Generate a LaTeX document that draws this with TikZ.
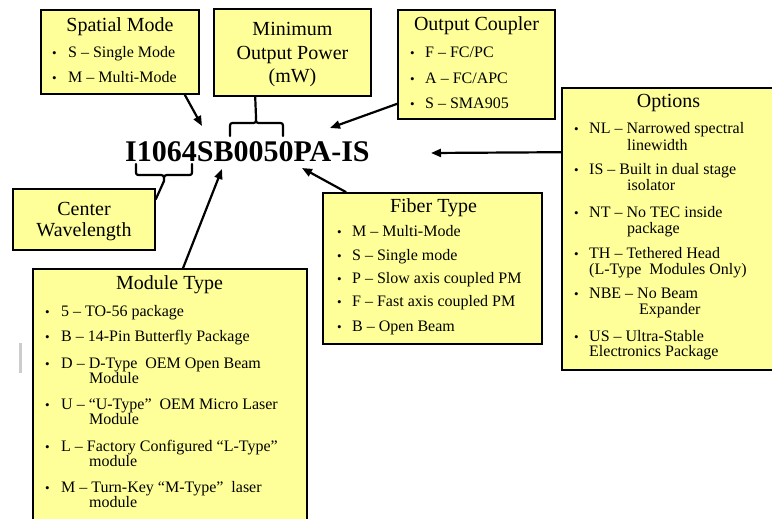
\documentclass[tikz,border=0pt]{standalone}
\usepackage{fontspec}
\setmainfont{Liberation Serif}
\usetikzlibrary{arrows.meta,calc}
\definecolor{boxyellow}{HTML}{FFFF99}
\tikzset{
  box/.style={draw=black, line width=1.6pt, fill=boxyellow, inner sep=0pt},
  ttl/.style={anchor=base, inner sep=0pt, font=\fontsize{20}{22}\selectfont},
  itm/.style={anchor=base west, inner sep=0pt, font=\fontsize{16}{18}\selectfont},
  bul/.style={anchor=base west, inner sep=0pt, font=\fontsize{13}{15}\selectfont},
  arr/.style={line width=2.2pt, -{Triangle[length=10pt,width=8pt]}},
  con/.style={line width=2.2pt, line cap=round, line join=round},
}
\begin{document}
\begin{tikzpicture}[x=1pt,y=-1pt]
\useasboundingbox (0,0) rectangle (772,519);
\clip (0,0) rectangle (772,519);
\fill[white] (0,0) rectangle (772,519);
\fill[gray!40] (19,343) rectangle (22,373);

% boxes
\node[box, minimum width=158pt, minimum height=84pt] (sm) at (120,52) {};
\node[box, minimum width=157pt, minimum height=87pt] (mop) at (292.5,52.5) {};
\node[box, minimum width=157pt, minimum height=109pt] (oc) at (476.5,64.5) {};
\node[box, minimum width=218pt, minimum height=282pt] (opt) at (671,229) {};
\node[box, minimum width=142pt, minimum height=61pt] (cw) at (84,219.5) {};
\node[box, minimum width=219pt, minimum height=151pt] (ft) at (432.5,268.5) {};
\node[box, minimum width=274pt, minimum height=261pt] (mt) at (170,399.5) {};

% code
\node[anchor=base west, inner sep=0pt, font=\fontsize{30}{32}\selectfont\bfseries] (code) at (125,161) {I1064SB0050PA-IS};

% Spatial Mode
\node[ttl] (smt) at (120,31.5) {Spatial Mode};
\node[bul] (smb1) at (52,57.3) {•};
\node[itm] (sm1) at (68,57.3) {S – Single Mode};
\node[bul] (smb2) at (52,82.7) {•};
\node[itm] (sm2) at (68,82.7) {M – Multi-Mode};

% Minimum Output Power
\node[ttl] (mop1) at (292.5,36) {Minimum};
\node[ttl] (mop2) at (292.5,59.5) {Output Power};
\node[ttl] (mop3) at (292.5,83) {(mW)};

% Output Coupler
\node[ttl] (oct) at (476.5,30.7) {Output Coupler};
\node[bul] (ocb1) at (410,57.3) {•};
\node[itm] (oc1) at (425,57.3) {F – FC/PC};
\node[bul] (ocb2) at (410,83.3) {•};
\node[itm] (oc2) at (425,83.3) {A – FC/APC};
\node[bul] (ocb3) at (410,109) {•};
\node[itm] (oc3) at (425,109) {S – SMA905};

% Options
\node[ttl] (optt) at (668.5,107.3) {Options};
\node[bul] (optb1) at (574,134) {•};
\node[itm] (opt1) at (589,134) {NL – Narrowed spectral};
\node[itm] (opt1b) at (627,150) {linewidth};
\node[bul] (optb2) at (574,175) {•};
\node[itm] (opt2) at (589,175) {IS – Built in dual stage};
\node[itm] (opt2b) at (627,190.7) {isolator};
\node[bul] (optb3) at (574,217.5) {•};
\node[itm] (opt3) at (589,217.5) {NT – No TEC inside};
\node[itm] (opt3b) at (627,233.5) {package};
\node[bul] (optb4) at (574,258.3) {•};
\node[itm] (opt4) at (589,258.3) {TH – Tethered Head};
\node[itm] (opt4b) at (589,274.3) {(L-Type\ \ Modules Only)};
\node[bul] (optb5) at (574,298.3) {•};
\node[itm] (opt5) at (589,298.3) {NBE – No Beam};
\node[itm] (opt5b) at (639,314) {Expander};
\node[bul] (optb6) at (574,341.7) {•};
\node[itm] (opt6) at (589,341.7) {US – Ultra-Stable};
\node[itm] (opt6b) at (589,356.7) {Electronics Package};

% Center Wavelength
\node[ttl] (cw1) at (84,215) {Center};
\node[ttl] (cw2) at (84,236.7) {Wavelength};

% Fiber Type
\node[ttl] (ftt) at (433.5,212.3) {Fiber Type};
\node[bul] (ftb1) at (337,236) {•};
\node[itm] (ft1) at (352,236) {M – Multi-Mode};
\node[bul] (ftb2) at (337,260) {•};
\node[itm] (ft2) at (352,260) {S – Single mode};
\node[bul] (ftb3) at (337,283.3) {•};
\node[itm] (ft3) at (352,283.3) {P – Slow axis coupled PM};
\node[bul] (ftb4) at (337,306.7) {•};
\node[itm] (ft4) at (352,306.7) {F – Fast axis coupled PM};
\node[bul] (ftb5) at (337,331.7) {•};
\node[itm] (ft5) at (352,331.7) {B – Open Beam};

% Module Type
\node[ttl] (mtt) at (169.5,289.3) {Module Type};
\node[bul] (mtb1) at (45,316.7) {•};
\node[itm] (mt1) at (61,316.7) {5 – TO-56 package};
\node[bul] (mtb2) at (45,341.7) {•};
\node[itm] (mt2) at (61,341.7) {B – 14-Pin Butterfly Package};
\node[bul] (mtb3) at (45,368.3) {•};
\node[itm] (mt3) at (61,368.3) {D – D-Type\ \ OEM Open Beam};
\node[itm] (mt3b) at (89,383.3) {Module};
\node[bul] (mtb4) at (45,409) {•};
\node[itm] (mt4) at (61,409) {U – “U-Type”\ \ OEM Micro Laser};
\node[itm] (mt4b) at (89,424) {Module};
\node[bul] (mtb5) at (45,451.7) {•};
\node[itm] (mt5) at (61,451.7) {L – Factory Configured “L-Type”};
\node[itm] (mt5b) at (89,466.7) {module};
\node[bul] (mtb6) at (45,492.3) {•};
\node[itm] (mt6) at (61,492.3) {M – Turn-Key “M-Type”\ \ laser};
\node[itm] (mt6b) at (89,507.7) {module};

% target coordinates
\coordinate (tsm) at (202,126);
\coordinate (toc) at (330,128);
\coordinate (topt) at (431,153);
\coordinate (tft) at (302,168);
\coordinate (tmt) at (222,169);
\coordinate (btop) at (256,117);
\coordinate (bbot) at (164,181);

% arrows
\draw[arr] ($(sm.south east)+(-15,0)$) -- (tsm);
\draw[arr] ($(oc.south west)+(0,-16)$) -- (toc);
\draw[arr] ($(opt.north west)+(0,65)$) -- (topt);
\draw[arr] ($(ft.north west)+(24,0)$) -- (tft);
\draw[arr] ($(mt.north)+(13,0)$) -- (tmt);

% braces
\draw[con] (230,136) -- (230,129) .. controls (230,123) .. (235,123) -- (251,123)
  .. controls (256,123) .. (btop) .. controls (256,123) .. (261,123) -- (278,123)
  .. controls (283,123) .. (283,129) -- (283,136);
\draw[con] (btop) -- ($(mop.south west)+(42,0)$);
\draw[con] (136,164) -- (136,170) .. controls (136,175) .. (141,175) -- (158,175)
  .. controls (164,175) .. (bbot) .. controls (164,175) .. (170,175) -- (187,175)
  .. controls (192,175) .. (192,170) -- (192,164);
\draw[con] (bbot) -- ($(cw.north east)+(0,11)$);
\end{tikzpicture}
\end{document}
